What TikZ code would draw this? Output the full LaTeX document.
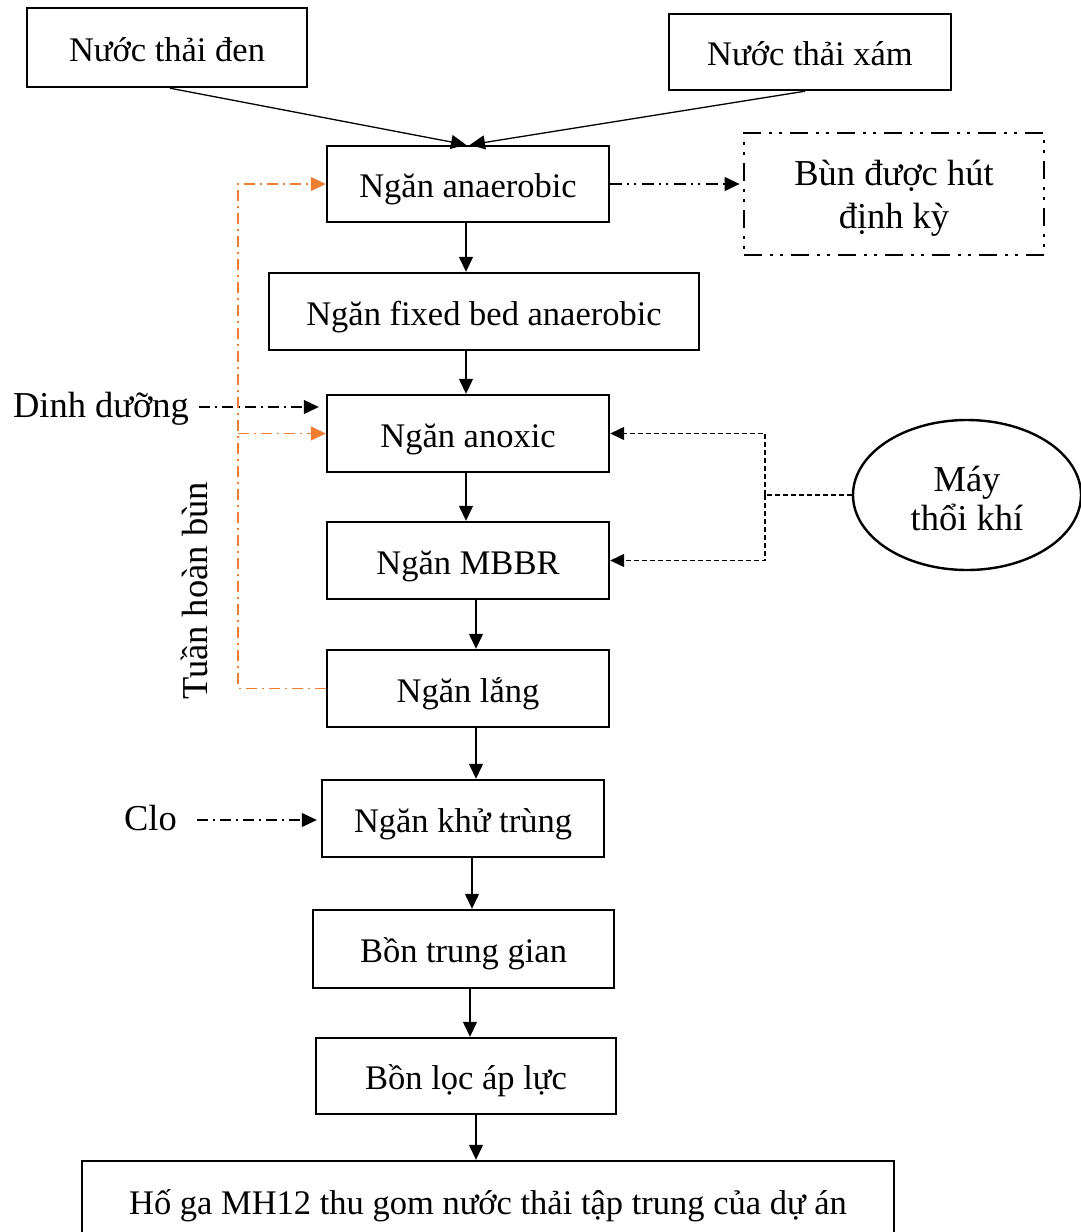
\documentclass[tikz,border=0pt]{standalone}
\usepackage{fontspec}
\setmainfont{Liberation Serif}
\usetikzlibrary{arrows.meta,shapes.geometric,calc}
\definecolor{recyc}{RGB}{237,125,49}
\begin{document}
\begin{tikzpicture}[x=1pt,y=-1pt,
  box/.style={draw, line width=2.4pt, inner sep=0pt, align=center,
    font=\fontsize{34.5}{40}\selectfont, text height=33pt, text depth=6pt},
  lbl/.style={inner sep=0pt, font=\fontsize{36.5}{41}\selectfont},
  tip/.style={-{Triangle[length=15pt,width=14pt]}},
  flow/.style={line width=1.3pt, tip},
  feed/.style={line width=1.2pt, tip, dash pattern=on 11pt off 5pt on 2pt off 5pt},
  recline/.style={draw=recyc, line width=1.3pt, dash pattern=on 11pt off 5pt on 2pt off 5pt},
  rectip/.style={-{Triangle[length=15pt,width=14pt,fill=recyc]}, recyc},
  sludge/.style={line width=1.2pt, tip, dash pattern=on 12pt off 5pt on 2pt off 5pt on 2pt off 6pt},
  air/.style={line width=1.2pt, dash pattern=on 5pt off 3pt},
  airtip/.style={-{Triangle[length=14pt,width=13pt]}}
]
\clip (0,0) rectangle (1081,1232);
\useasboundingbox (0,0) rectangle (1081,1232);

% process units
\node[box, minimum width=280, minimum height=79] (den) at (167,47.5) {Nước thải đen};
\node[box, minimum width=282, minimum height=76] (xam) at (810,52) {Nước thải xám};
\node[box, minimum width=282, minimum height=76] (anaer) at (468,184) {Ngăn anaerobic};
\node[box, minimum width=300, minimum height=122, line width=2.8pt,
  dash pattern=on 18pt off 8pt on 3pt off 7pt on 3pt off 8pt,
  font=\fontsize{36.5}{43}\selectfont, text height=75pt, text depth=7pt] (bun) at (894,194) {Bùn được hút\\định kỳ};
\node[box, minimum width=430, minimum height=77] (fixed) at (484,311.5) {Ngăn fixed bed anaerobic};
\node[box, minimum width=282, minimum height=77] (anoxic) at (468,433.5) {Ngăn anoxic};
\node[box, minimum width=282, minimum height=77] (mbbr) at (468,560.5) {Ngăn MBBR};
\node[box, minimum width=282, minimum height=77] (lang) at (468,688.5) {Ngăn lắng};
\node[box, minimum width=282, minimum height=77] (khu) at (463,818.5) {Ngăn khử trùng};
\node[box, minimum width=301, minimum height=78] (trung) at (463.5,949) {Bồn trung gian};
\node[box, minimum width=300, minimum height=76] (loc) at (466,1076) {Bồn lọc áp lực};
\node[box, minimum width=812, minimum height=80] (hoga) at (488,1201) {Hố ga MH12 thu gom nước thải tập trung của dự án};
\node[draw, ellipse, line width=2.4pt, inner sep=0pt, minimum width=228, minimum height=150,
  align=center, font=\fontsize{36.5}{39}\selectfont, text height=75pt, text depth=5pt] (blower) at (967,495) {Máy\\thổi khí};

% side labels
\node[lbl, anchor=base] (dinh) at (101,417) {Dinh dưỡng};
\node[lbl, anchor=base] (clo) at (150.5,830) {Clo};
\node[lbl, anchor=base, rotate=90] (tuan) at (207,591) {Tuần hoàn bùn};

% inflows
\draw[flow] ([xshift=3pt]den.south) -- ([xshift=-2pt]anaer.north);
\draw[flow] ([xshift=-5pt]xam.south) -- ([xshift=2pt]anaer.north);

% main line
\path ([xshift=-2pt]anaer.south) coordinate (a1);
\draw[flow] (a1) -- (a1 |- fixed.north);
\path ([xshift=-2pt]anoxic.north) coordinate (a2);
\draw[flow] (a2 |- fixed.south) -- (a2);
\path ([xshift=-2pt]anoxic.south) coordinate (a3);
\draw[flow] (a3) -- (a3 |- mbbr.north);
\path ([xshift=8pt]mbbr.south) coordinate (a4);
\draw[flow] (a4) -- (a4 |- lang.north);
\path ([xshift=8pt]lang.south) coordinate (a5);
\draw[flow] (a5) -- (a5 |- khu.north);
\path ([xshift=9pt]khu.south) coordinate (a6);
\draw[flow] (a6) -- (a6 |- trung.north);
\path ([xshift=6.5pt]trung.south) coordinate (a7);
\draw[flow] (a7) -- (a7 |- loc.north);
\path ([xshift=10pt]loc.south) coordinate (a8);
\draw[flow] (a8) -- (a8 |- hoga.north);

% sludge withdrawal
\draw[sludge, shorten >=3pt] (anaer.east) -- (anaer.east -| bun.west);

% dosing
\path ([xshift=10pt,yshift=10pt]dinh.base east) coordinate (d0);
\draw[feed, shorten >=7pt] (d0) -- (d0 -| anoxic.west);
\path ([xshift=20pt,yshift=10pt]clo.base east) coordinate (c0);
\draw[feed, shorten >=4pt] (c0) -- (c0 -| khu.west);

% sludge recirculation
\coordinate (rc) at (238,0);
\draw[recline, rectip] (lang.west) -- (lang.west -| rc) -- (rc |- anaer.west) -- (anaer.west);
\draw[recline, rectip] (rc |- anoxic.west) -- (anoxic.west);

% aeration
\coordinate (bj) at (765,0);
\draw[air] (blower.west) -- (blower.west -| bj);
\draw[air, airtip] (bj |- blower.west) -- (bj |- anoxic.east) -- (anoxic.east);
\draw[air, airtip] (bj |- blower.west) -- (bj |- mbbr.east) -- (mbbr.east);
\end{tikzpicture}
\end{document}
